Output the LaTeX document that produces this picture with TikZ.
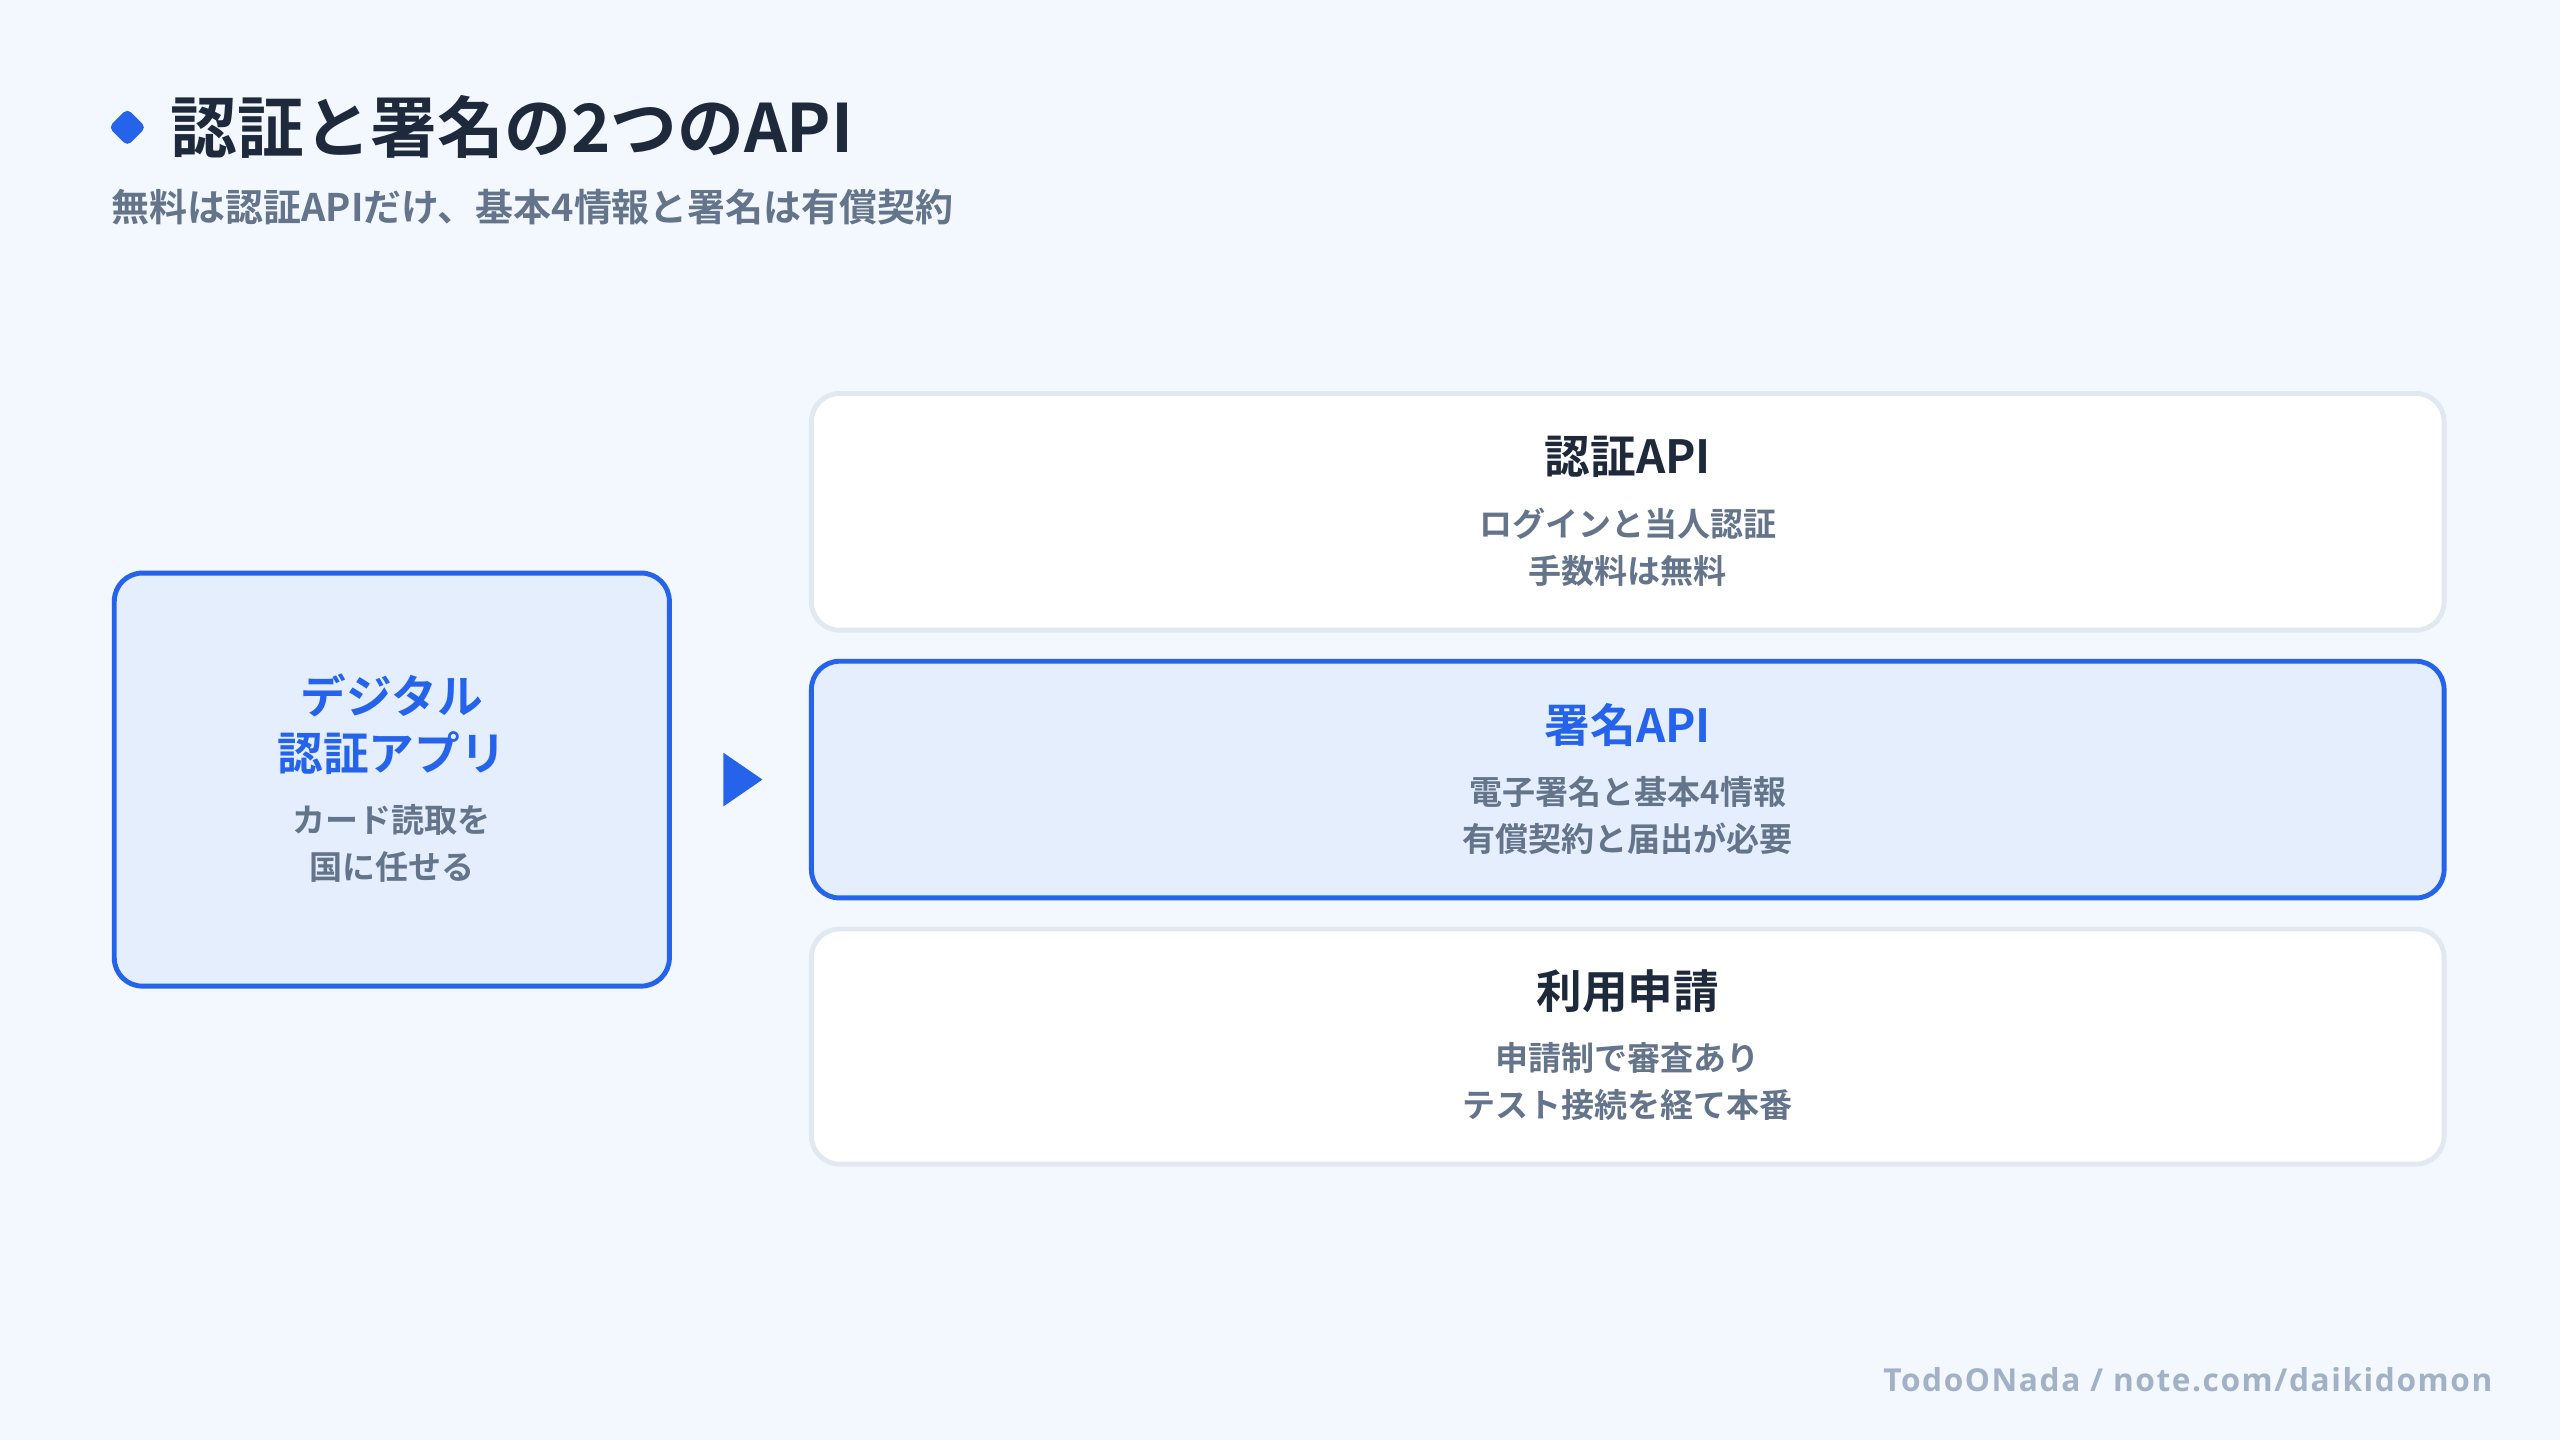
\documentclass[tikz,border=0pt]{standalone}
\usepackage{fontspec}
\usetikzlibrary{shapes.geometric}
\setmainfont{Noto Sans CJK JP}[BoldFont={* Bold}]
\newfontfamily\foot{Open Sans}[LetterSpace=5]
\definecolor{bg}{HTML}{F3F7FE}
\definecolor{blue}{HTML}{2563EB}
\definecolor{lblue}{HTML}{E4EEFD}
\definecolor{dark}{HTML}{1E293B}
\definecolor{gray}{HTML}{64748B}
\definecolor{bord}{HTML}{E2E8F0}
\definecolor{foot}{HTML}{A3B1C6}
\begin{document}
\begin{tikzpicture}[x=0.016327cm,y=-0.016327cm,
  wbox/.style={draw=bord,line width=1.4pt,fill=white,rounded corners=8pt},
  bbox/.style={draw=blue,line width=1.4pt,fill=lblue,rounded corners=8pt},
  ttl/.style={font=\bfseries\fontsize{13}{15}\selectfont,text=dark},
  body/.style={font=\bfseries\fontsize{9.4}{11}\selectfont,text=gray}]
\fill[bg] (0,0) rectangle (1568,882);
\useasboundingbox (0,0) rectangle (1568,882);
\node[fill=blue,diamond,minimum size=0.38cm,inner sep=0,rounded corners=1.5pt] (dia) at (78,78) {};
\node[anchor=west,inner sep=0,text=dark,font=\bfseries\fontsize{19}{22}\selectfont] (title) at (104,78) {認証と署名の2つのAPI};
\node[anchor=west,inner sep=0,text=gray,font=\bfseries\fontsize{10.8}{12}\selectfont] (sub) at (68,127) {無料は認証APIだけ、基本4情報と署名は有償契約};
\draw[bbox] (70,351) rectangle (410,604);
\node[ttl,text=blue] (l1) at (240,426) {デジタル};
\node[ttl,text=blue] (l2) at (240,461) {認証アプリ};
\node[body] (l3) at (240,502) {カード読取を};
\node[body] (l4) at (240,531) {国に任せる};
\fill[blue] (443,461) -- (467,477.5) -- (443,494) -- cycle;
\draw[wbox] (497,241) rectangle (1497,386);
\node[ttl] (a1) at (997,280) {認証API};
\node[body] (a2) at (997,321) {ログインと当人認証};
\node[body] (a3) at (997,350) {手数料は無料};
\draw[bbox] (497,405) rectangle (1497,550);
\node[ttl,text=blue] (b1) at (997,444) {署名API};
\node[body] (b2) at (997,485) {電子署名と基本4情報};
\node[body] (b3) at (997,514) {有償契約と届出が必要};
\draw[wbox] (497,569) rectangle (1497,713);
\node[ttl] (c1) at (997,607) {利用申請};
\node[body] (c2) at (997,648) {申請制で審査あり};
\node[body] (c3) at (997,677) {テスト接続を経て本番};
\node[anchor=east,inner sep=0,text=foot,font=\foot\bfseries\fontsize{9}{11}\selectfont] (ft) at (1527,845) {TodoONada / note.com/daikidomon};
\end{tikzpicture}
\end{document}
